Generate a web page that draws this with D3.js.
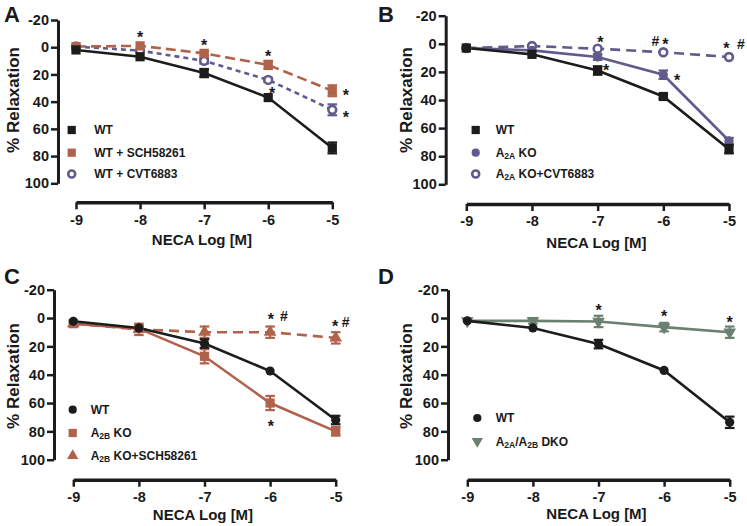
<!DOCTYPE html>
<html><head><meta charset="utf-8">
<script src="https://cdn.jsdelivr.net/npm/d3@7"></script>
<style>
html,body{margin:0;padding:0;background:#fff;}
svg text{font-family:Arial,"Liberation Sans",sans-serif;font-weight:bold;fill:#1a1a1a;}
</style></head>
<body>
<svg id="chart" width="747" height="526"></svg>
<script>
// ---------- DATA ----------
const concentrations = [-9, -8, -7, -6, -5];
const xTickLabels = ["-9", "-8", "-7", "-6", "-5"];
const yTickValues = [-20, 0, 20, 40, 60, 80, 100];
const yTickLabels = ["-20", "0", "20", "40", "60", "80", "100"];
const xTitle = "NECA Log [M]";
const yTitle = "% Relaxation";

// Panel A
const aWT = [2, 7, 19, 37, 74];
const aWTErr = [1, 1, 3, 1, 4];
const aSCH = [-0.5, -1, 4.5, 13, 32];
const aSCHErr = [1, 1, 1.5, 3, 4];
const aCVT = [-0.5, 2.5, 10, 24, 46];
const aCVTErr = [1, 1, 2, 1.5, 4];
const aNotes = [
  {x: -8, y: -10, t: "*"}, {x: -7, y: -4.5, t: "*"}, {x: -6, y: 3.7, t: "*"},
  {x: -5.94, y: 31, t: "*"}, {x: -4.79, y: 32.3, t: "*"}, {x: -4.79, y: 48.8, t: "*"}
];

// Panel B
const bWT = [3, 7.5, 19, 37.5, 75];
const bWTErr = [1, 1, 3, 1.5, 3];
const bKO = [3, 4.7, 9.4, 22, 69];
const bKOErr = [1, 1, 2, 3, 2];
const bKOCVT = [3, 1.6, 3.5, 6, 9.4];
const bKOCVTErr = [1, 1, 1, 1, 1];
const bNotes = [
  {x: -6.96, y: -3.5, t: "*"}, {x: -6.87, y: 15.8, t: "*"},
  {x: -6.12, y: -2.4, t: "#"}, {x: -5.97, y: -2.4, t: "*"},
  {x: -5.79, y: 23.5, t: "*"}, {x: -5.04, y: 0.5, t: "*"}, {x: -4.82, y: 0, t: "#"}
];

// Panel C
const cWT = [2.3, 7, 18, 37.4, 72];
const cWTErr = [1, 1, 3, 1, 3];
const cKO = [4, 7.5, 27, 60, 80];
const cKOErr = [1, 2, 5, 5, 3];
const cKOSCH = [4, 8, 10, 10, 14];
const cKOSCHErr = [1, 4, 4, 4, 4];
const cNotes = [
  {x: -5.99, y: -1.9, t: "*"}, {x: -5.79, y: -1.9, t: "#"},
  {x: -5.99, y: 74, t: "*"}, {x: -5.01, y: 2.8, t: "*"}, {x: -4.85, y: 2.8, t: "#"}
];

// Panel D
const dWT = [2, 7, 18.4, 37, 73.6];
const dWTErr = [1, 1, 3, 1, 4];
const dDKO = [2, 2, 2.4, 6.4, 10];
const dDKOErr = [1, 2, 4, 3, 4];
const dNotes = [
  {x: -7, y: -8.2, t: "*"}, {x: -6, y: -4, t: "*"}, {x: -5, y: 0, t: "*"}
];

// ---------- STYLES / LAYOUT ----------
const BLACK = "#1c1c1c", ORANGE = "#b0624a", PURPLE = "#5f5b8c", GREEN = "#6b8070";
const FONT = "Arial, 'Liberation Sans', sans-serif";

const panels = [
  {label: "A", lx: 4, ly: 22, yAxisX: 58, yTop: 20, yBot: 183.3, xAxisY: 202.3, x0: 76, x1: 332.3,
   titleX: 202, titleY: 245, yTitleX: 19, yTitleY: 100,
   legX: 71.7, legTextX: 94.3, legY: [130, 152.7, 174], notes: aNotes,
   series: [
     {name: ["WT"], vals: aWT, err: aWTErr, color: BLACK, sym: "square", dash: null},
     {name: ["WT + SCH58261"], vals: aSCH, err: aSCHErr, color: ORANGE, sym: "square", dash: "10,5"},
     {name: ["WT + CVT6883"], vals: aCVT, err: aCVTErr, color: PURPLE, sym: "open", dash: "5,4"}
   ]},
  {label: "B", lx: 378, ly: 22, yAxisX: 445.7, yTop: 15.7, yBot: 184.3, xAxisY: 204, x0: 466.3, x1: 729,
   titleX: 596.5, titleY: 248, yTitleX: 412, yTitleY: 100,
   legX: 475.7, legTextX: 495.7, legY: [130, 152.7, 174], notes: bNotes,
   series: [
     {name: ["WT"], vals: bWT, err: bWTErr, color: BLACK, sym: "square", dash: null},
     {name: ["A", "2A", " KO"], vals: bKO, err: bKOErr, color: PURPLE, sym: "circle", dash: null},
     {name: ["A", "2A", " KO+CVT6883"], vals: bKOCVT, err: bKOCVTErr, color: PURPLE, sym: "open", dash: "10,6"}
   ]},
  {label: "C", lx: 4, ly: 284, yAxisX: 54, yTop: 289.7, yBot: 459.7, xAxisY: 479.7, x0: 73.3, x1: 335.7,
   titleX: 203, titleY: 520, yTitleX: 19, yTitleY: 376,
   legX: 72.7, legTextX: 90.7, legY: [409.7, 433, 455.7], notes: cNotes,
   series: [
     {name: ["WT"], vals: cWT, err: cWTErr, color: BLACK, sym: "circle", dash: null},
     {name: ["A", "2B", " KO"], vals: cKO, err: cKOErr, color: ORANGE, sym: "square", dash: null},
     {name: ["A", "2B", " KO+SCH58261"], vals: cKOSCH, err: cKOSCHErr, color: ORANGE, sym: "triangle", dash: "10,6"}
   ]},
  {label: "D", lx: 378, ly: 284, yAxisX: 448, yTop: 289.7, yBot: 459.7, xAxisY: 479.7, x0: 467.3, x1: 729.7,
   titleX: 596.5, titleY: 519, yTitleX: 412, yTitleY: 376,
   legX: 477.3, legTextX: 495.7, legY: [418, 441.3], notes: dNotes,
   series: [
     {name: ["WT"], vals: dWT, err: dWTErr, color: BLACK, sym: "circle", dash: null},
     {name: ["A", "2A", "/A", "2B", " DKO"], vals: dDKO, err: dDKOErr, color: GREEN, sym: "down", dash: null}
   ]}
];

const svg = d3.select("#chart");

function drawMarker(g, sym, color, cx, cy, scale) {
  scale = scale || 1;
  if (sym === "square") {
    g.append("path").attr("d", d3.symbol(d3.symbolSquare, 85 * scale)()).attr("transform", `translate(${cx},${cy})`).attr("fill", color);
  } else if (sym === "circle") {
    g.append("circle").attr("cx", cx).attr("cy", cy).attr("r", 4.6 * Math.sqrt(scale)).attr("fill", color);
  } else if (sym === "open") {
    g.append("circle").attr("cx", cx).attr("cy", cy).attr("r", 3.9 * Math.sqrt(scale)).attr("fill", "#fff").attr("stroke", color).attr("stroke-width", 2.6);
  } else if (sym === "triangle") {
    g.append("path").attr("d", d3.symbol(d3.symbolTriangle, 70 * scale)()).attr("transform", `translate(${cx},${cy})`).attr("fill", color);
  } else if (sym === "down") {
    g.append("path").attr("d", d3.symbol(d3.symbolTriangle, 70 * scale)()).attr("transform", `translate(${cx},${cy}) rotate(180)`).attr("fill", color);
  }
}

panels.forEach(p => {
  const g = svg.append("g");
  const x = d3.scaleLinear().domain([-9, -5]).range([p.x0, p.x1]);
  const y = d3.scaleLinear().domain([-20, 100]).range([p.yTop, p.yBot]);

  // panel label
  g.append("text").attr("x", p.lx).attr("y", p.ly).attr("font-size", 22).text(p.label);

  // y axis
  const yAxis = d3.axisLeft(y).tickValues(yTickValues).tickFormat((d, i) => yTickLabels[i])
    .tickSize(7).tickPadding(2).tickSizeOuter(0);
  const ya = g.append("g").attr("transform", `translate(${p.yAxisX},0)`).call(yAxis);
  ya.select(".domain").attr("stroke", BLACK).attr("stroke-width", 3);
  ya.selectAll(".tick line").attr("stroke", BLACK).attr("stroke-width", 2.5);
  ya.selectAll(".tick text").attr("font-size", 14.5).attr("font-family", FONT).attr("font-weight", "bold").attr("fill", BLACK);

  // x axis
  const xAxis = d3.axisBottom(x).tickValues(concentrations).tickFormat((d, i) => xTickLabels[i])
    .tickSize(7).tickSizeOuter(0).tickPadding(5);
  const xa = g.append("g").attr("transform", `translate(0,${p.xAxisY})`).call(xAxis);
  xa.select(".domain").attr("stroke", BLACK).attr("stroke-width", 3.5);
  xa.selectAll(".tick line").attr("stroke", BLACK).attr("stroke-width", 2.5);
  xa.selectAll(".tick text").attr("font-size", 14.5).attr("font-family", FONT).attr("font-weight", "bold").attr("fill", BLACK);

  // axis titles
  g.append("text").attr("x", p.titleX).attr("y", p.titleY).attr("text-anchor", "middle").attr("font-size", 15).text(xTitle);
  g.append("text").attr("transform", `translate(${p.yTitleX},${p.yTitleY}) rotate(-90)`).attr("text-anchor", "middle").attr("font-size", 17).text(yTitle);

  const line = d3.line().x((d, i) => x(concentrations[i])).y(d => y(d));

  // lines (reverse order so first series on top)
  p.series.slice().reverse().forEach(s => {
    g.append("path").datum(s.vals).attr("d", line).attr("fill", "none")
      .attr("stroke", s.color).attr("stroke-width", 2.6)
      .attr("stroke-dasharray", s.dash);
  });

  // error bars + markers
  p.series.slice().reverse().forEach(s => {
    s.vals.forEach((v, i) => {
      const cx = x(concentrations[i]);
      const e = s.err[i];
      if (e > 1.2) {
        const y1 = y(v - e), y2 = y(v + e);
        g.append("line").attr("x1", cx).attr("x2", cx).attr("y1", y1).attr("y2", y2).attr("stroke", s.color).attr("stroke-width", 2.2);
        [y1, y2].forEach(yy => g.append("line").attr("x1", cx - 4.8).attr("x2", cx + 4.8).attr("y1", yy).attr("y2", yy).attr("stroke", s.color).attr("stroke-width", 2.2));
      }
      drawMarker(g, s.sym, s.color, cx, y(v));
    });
  });

  // annotations
  p.notes.forEach(n => {
    g.append("text").attr("x", x(n.x)).attr("y", y(n.y)).attr("dy", n.t === "*" ? "0.6em" : "0.38em")
      .attr("text-anchor", "middle").attr("font-size", n.t === "*" ? 16 : 14)
      .attr("font-weight", n.t === "*" ? "normal" : "bold").text(n.t);
  });

  // legend
  p.series.forEach((s, i) => {
    const ly = p.legY[i];
    drawMarker(g, s.sym, s.color, p.legX, ly, 0.8);
    const t = g.append("text").attr("x", p.legTextX).attr("y", ly).attr("dy", "0.36em").attr("font-size", 12);
    s.name.forEach((part, k) => {
      const isSub = (s.name.length > 1) && (k % 2 === 1);
      t.append("tspan").attr("font-size", isSub ? 8.5 : 12)
        .attr("baseline-shift", isSub ? "-25%" : null)
        .text(part);
    });
  });
});
</script>
</body></html>
